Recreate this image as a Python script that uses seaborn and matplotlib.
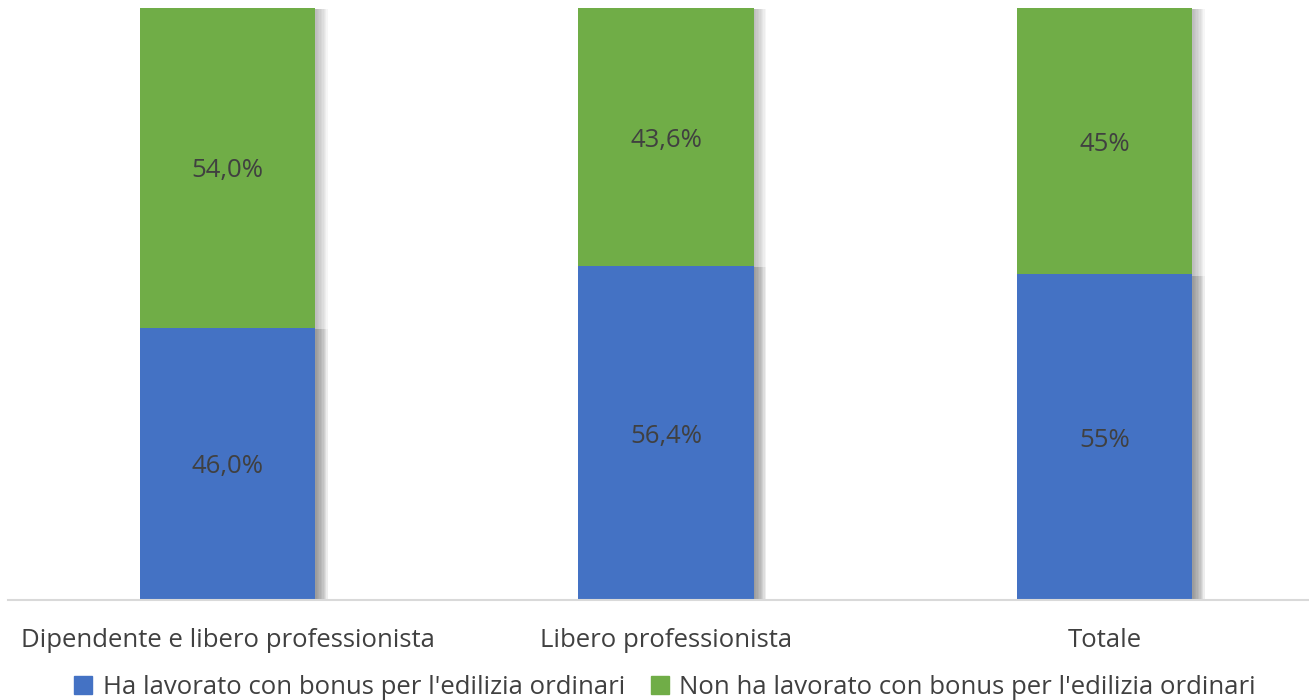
import matplotlib
matplotlib.use("Agg")
import matplotlib.pyplot as plt
import matplotlib.patheffects as pe
from matplotlib.patches import Patch
import pandas as pd
import seaborn as sns

# Data
categories = ["Dipendente e libero professionista", "Libero professionista", "Totale"]
ha_lavorato = [46.0, 56.4, 55.0]
non_ha_lavorato = [54.0, 43.6, 45.0]
ha_labels = ["46,0%", "56,4%", "55%"]
non_labels = ["54,0%", "43,6%", "45%"]
series_names = ["Ha lavorato con bonus per l'edilizia ordinari",
                "Non ha lavorato con bonus per l'edilizia ordinari"]

blue = "#4472C4"
green = "#70AD47"
text_col = "#404040"
fs = 18.5

sns.set_style("white")
plt.rcParams['font.family'] = ['Open Sans', 'DejaVu Sans']

df = pd.DataFrame({"cat": categories, "ha": ha_lavorato, "non": non_ha_lavorato})
df["tot"] = df["ha"] + df["non"]

fig = plt.figure(figsize=(13.09, 7), dpi=100)
ax = fig.add_axes([0.0063, 0.1429, 1.005, 0.8457])

# soft shadow on the right side of each bar
shadow = [pe.SimplePatchShadow(offset=(k, -1), shadow_rgbFace="#808080", alpha=0.07)
          for k in range(9, 0, -1)] + [pe.Normal()]

sns.barplot(data=df, x="cat", y="tot", color=green, width=0.4, saturation=1, ax=ax)
sns.barplot(data=df, x="cat", y="ha", color=blue, width=0.4, saturation=1, ax=ax)
for p in ax.patches:
    p.set_linewidth(0)
    p.set_path_effects(shadow)

for i in range(len(categories)):
    ax.text(i, ha_lavorato[i] / 2, ha_labels[i], ha="center", va="center_baseline",
            fontsize=fs, color=text_col)
    ax.text(i, ha_lavorato[i] + non_ha_lavorato[i] / 2, non_labels[i], ha="center",
            va="center_baseline", fontsize=fs, color=text_col)

ax.set_xlim(-0.5, 2.5)
ax.set_ylim(0, 100)
ax.set_xlabel("")
ax.set_ylabel("")
ax.set_yticks([])
ax.tick_params(axis="x", length=0, pad=20, labelsize=fs, labelcolor=text_col)
for s in ["top", "left", "right"]:
    ax.spines[s].set_visible(False)
ax.spines["bottom"].set_color("#d9d9d9")
ax.spines["bottom"].set_linewidth(1.5)

handles = [Patch(color=blue, label=series_names[0]), Patch(color=green, label=series_names[1])]
fig.legend(handles=handles, loc="center", bbox_to_anchor=(0.508, 0.018), ncol=2,
           frameon=False, fontsize=fs, labelcolor=text_col, handlelength=0.7,
           handleheight=0.7, handletextpad=0.4, columnspacing=1.0)

fig.savefig("out.png", dpi=100)
